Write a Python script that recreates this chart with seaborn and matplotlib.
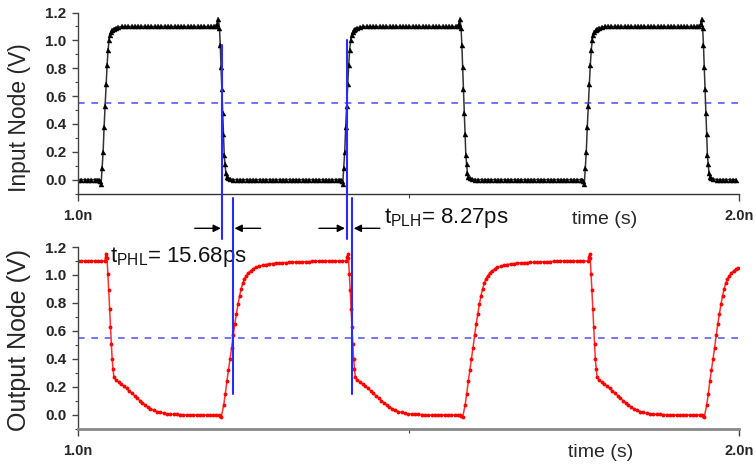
import matplotlib
matplotlib.use("Agg")
import matplotlib.pyplot as plt
import seaborn as sns
from matplotlib.ticker import FixedLocator, MultipleLocator

# ---------------- data (time in ps, voltage in V) ----------------
in_time_ps = [
    1000, 1005, 1010, 1015, 1020, 1025, 1029,
    1032.0, 1033.5, 1035.0, 1036.5, 1038.0, 1039.5, 1041.0, 1042.5, 1044.0, 1045.5, 1047.0, 1048.5, 1050.0, 1052.0, 1054.0, 1057.0, 1061.0, 1066.0,
    1071, 1076, 1081, 1086, 1091, 1096, 1101, 1106, 1111, 1116, 1121, 1126, 1131, 1136,
    1141, 1146, 1151, 1156, 1161, 1166, 1171, 1176, 1181, 1186, 1191, 1196, 1201, 1206,
    1209.0, 1211.0, 1212.5, 1214.0, 1215.2, 1216.4, 1217.6, 1218.8, 1220.0, 1221.2, 1222.4, 1223.6, 1225.0, 1227.0, 1230.0,
    1235, 1240, 1245, 1250, 1255, 1260, 1265, 1270, 1275, 1280, 1285, 1290, 1295, 1300, 1305, 1310, 1315,
    1320, 1325, 1330, 1335, 1340, 1345, 1350, 1355, 1360, 1365, 1370, 1375, 1380, 1385, 1390, 1395,
    1397.5, 1399.0, 1400.5, 1402.0, 1403.5, 1405.0, 1406.5, 1408.0, 1409.5, 1411.0, 1412.5, 1414.0, 1415.5, 1417.5, 1419.5, 1422.5, 1426.5, 1431.5,
    1436.5, 1441.5, 1446.5, 1451.5, 1456.5, 1461.5, 1466.5, 1471.5, 1476.5, 1481.5, 1486.5, 1491.5, 1496.5, 1501.5,
    1506.5, 1511.5, 1516.5, 1521.5, 1526.5, 1531.5, 1536.5, 1541.5, 1546.5, 1551.5, 1556.5, 1561.5, 1566.5, 1571.5,
    1574.5, 1576.5, 1578.0, 1579.5, 1580.7, 1581.9, 1583.1, 1584.3, 1585.5, 1586.7, 1587.9, 1589.1, 1590.5, 1592.5, 1595.5,
    1600.5, 1605.5, 1610.5, 1615.5, 1620.5, 1625.5, 1630.5, 1635.5, 1640.5, 1645.5, 1650.5, 1655.5, 1660.5, 1665.5, 1670.5, 1675.5, 1680.5,
    1685.5, 1690.5, 1695.5, 1700.5, 1705.5, 1710.5, 1715.5, 1720.5, 1725.5, 1730.5, 1735.5, 1740.5, 1745.5, 1750.5, 1755.5, 1760.5,
    1763.0, 1764.5, 1766.0, 1767.5, 1769.0, 1770.5, 1772.0, 1773.5, 1775.0, 1776.5, 1778.0, 1779.5, 1781.0, 1783.0, 1785.0, 1788.0, 1792.0, 1797.0,
    1802, 1807, 1812, 1817, 1822, 1827, 1832, 1837, 1842, 1847, 1852, 1857, 1862, 1867,
    1872, 1877, 1882, 1887, 1892, 1897, 1902, 1907, 1912, 1917, 1922, 1927, 1932, 1937,
    1940.0, 1942.0, 1943.5, 1945.0, 1946.2, 1947.4, 1948.6, 1949.8, 1951.0, 1952.2, 1953.4, 1954.6, 1956.0, 1958.0, 1961.0,
    1966, 1971, 1976, 1981, 1986, 1991, 1996,
]
in_volt = [
    0.0, 0.0, 0.0, 0.0, 0.0, 0.0, 0.0,
    0.00, -0.01, -0.03, 0.08, 0.20, 0.38, 0.53, 0.69, 0.82, 0.93, 1.00, 1.04, 1.06, 1.075, 1.085, 1.09, 1.095, 1.10,
    1.10, 1.10, 1.10, 1.10, 1.10, 1.10, 1.10, 1.10, 1.10, 1.10, 1.10, 1.10, 1.10, 1.10,
    1.10, 1.10, 1.10, 1.10, 1.10, 1.10, 1.10, 1.10, 1.10, 1.10, 1.10, 1.10, 1.10, 1.10,
    1.10, 1.12, 1.15, 1.09, 0.97, 0.81, 0.65, 0.48, 0.33, 0.18, 0.11, 0.05, 0.02, 0.01, 0.005,
    0.0, 0.0, 0.0, 0.0, 0.0, 0.0, 0.0, 0.0, 0.0, 0.0, 0.0, 0.0, 0.0, 0.0, 0.0, 0.0, 0.0,
    0.0, 0.0, 0.0, 0.0, 0.0, 0.0, 0.0, 0.0, 0.0, 0.0, 0.0, 0.0, 0.0, 0.0, 0.0, 0.0,
    0.00, -0.01, -0.03, 0.08, 0.20, 0.38, 0.53, 0.69, 0.82, 0.93, 1.00, 1.04, 1.06, 1.075, 1.085, 1.09, 1.095, 1.10,
    1.10, 1.10, 1.10, 1.10, 1.10, 1.10, 1.10, 1.10, 1.10, 1.10, 1.10, 1.10, 1.10, 1.10,
    1.10, 1.10, 1.10, 1.10, 1.10, 1.10, 1.10, 1.10, 1.10, 1.10, 1.10, 1.10, 1.10, 1.10,
    1.10, 1.12, 1.15, 1.09, 0.97, 0.81, 0.65, 0.48, 0.33, 0.18, 0.11, 0.05, 0.02, 0.01, 0.005,
    0.0, 0.0, 0.0, 0.0, 0.0, 0.0, 0.0, 0.0, 0.0, 0.0, 0.0, 0.0, 0.0, 0.0, 0.0, 0.0, 0.0,
    0.0, 0.0, 0.0, 0.0, 0.0, 0.0, 0.0, 0.0, 0.0, 0.0, 0.0, 0.0, 0.0, 0.0, 0.0, 0.0,
    0.00, -0.01, -0.03, 0.08, 0.20, 0.38, 0.53, 0.69, 0.82, 0.93, 1.00, 1.04, 1.06, 1.075, 1.085, 1.09, 1.095, 1.10,
    1.10, 1.10, 1.10, 1.10, 1.10, 1.10, 1.10, 1.10, 1.10, 1.10, 1.10, 1.10, 1.10, 1.10,
    1.10, 1.10, 1.10, 1.10, 1.10, 1.10, 1.10, 1.10, 1.10, 1.10, 1.10, 1.10, 1.10, 1.10,
    1.10, 1.12, 1.15, 1.09, 0.97, 0.81, 0.65, 0.48, 0.33, 0.18, 0.11, 0.05, 0.02, 0.01, 0.005,
    0.0, 0.0, 0.0, 0.0, 0.0, 0.0, 0.0,
]

out_time_ps = [
    1000, 1005, 1010, 1015, 1020, 1025, 1030, 1035,
    1040.5, 1041.9, 1042.9, 1043.9, 1045.2, 1046.5, 1047.8, 1049.1, 1050.4, 1051.7, 1053.0, 1054.3,
    1057.5, 1061.5, 1065.5, 1069.5, 1073.5, 1077.5, 1081.5, 1085.5, 1089.5, 1093.5, 1097.5, 1101.5,
    1105.5, 1109.5, 1114.5, 1119.5, 1124.5, 1129.5, 1134.5, 1139.5, 1144.5, 1149.5, 1154.5, 1159.5,
    1164.5, 1169.5, 1174.5, 1179.5, 1184.5, 1189.5, 1194.5, 1199.5, 1204.5, 1209.5,
    1213.3, 1214.8, 1216.8, 1220.4, 1222.8, 1225.2, 1227.6, 1230.0, 1232.4, 1234.8, 1237.2,
    1239.6, 1242.0, 1244.4, 1246.8, 1249.2, 1251.8, 1254.8, 1257.8, 1261.3, 1265.3,
    1269.3, 1274.3, 1279.3, 1284.3, 1289.3, 1294.3, 1299.3, 1304.3, 1309.3, 1314.3, 1319.3, 1324.3, 1329.3, 1334.3,
    1339.3, 1344.3, 1349.3, 1354.3, 1359.3, 1364.3, 1369.3, 1374.3, 1379.3, 1384.3, 1389.3, 1394.3, 1399.3,
    1405.8, 1407.2, 1408.2, 1409.2, 1410.5, 1411.8, 1413.1, 1414.4, 1415.7, 1417.0, 1418.3, 1419.6,
    1422.8, 1426.8, 1430.8, 1434.8, 1438.8, 1442.8, 1446.8, 1450.8, 1454.8, 1458.8, 1462.8, 1466.8,
    1470.8, 1474.8, 1479.8, 1484.8, 1489.8, 1494.8, 1499.8, 1504.8, 1509.8, 1514.8, 1519.8, 1524.8,
    1529.8, 1534.8, 1539.8, 1544.8, 1549.8, 1554.8, 1559.8, 1564.8, 1569.8, 1574.8,
    1578.5, 1580.0, 1582.0, 1585.6, 1588.0, 1590.4, 1592.8, 1595.2, 1597.6, 1600.0, 1602.4,
    1604.8, 1607.2, 1609.6, 1612.0, 1614.4, 1617.0, 1620.0, 1623.0, 1626.5, 1630.5,
    1634.5, 1639.5, 1644.5, 1649.5, 1654.5, 1659.5, 1664.5, 1669.5, 1674.5, 1679.5, 1684.5, 1689.5, 1694.5, 1699.5,
    1704.5, 1709.5, 1714.5, 1719.5, 1724.5, 1729.5, 1734.5, 1739.5, 1744.5, 1749.5, 1754.5, 1759.5, 1764.5,
    1771.5, 1772.9, 1773.9, 1774.9, 1776.2, 1777.5, 1778.8, 1780.1, 1781.4, 1782.7, 1784.0, 1785.3,
    1788.5, 1792.5, 1796.5, 1800.5, 1804.5, 1808.5, 1812.5, 1816.5, 1820.5, 1824.5, 1828.5, 1832.5,
    1836.5, 1840.5, 1845.5, 1850.5, 1855.5, 1860.5, 1865.5, 1870.5, 1875.5, 1880.5, 1885.5, 1890.5,
    1895.5, 1900.5, 1905.5, 1910.5, 1915.5, 1920.5, 1925.5, 1930.5, 1935.5, 1940.5,
    1944.0, 1945.5, 1947.5, 1951.1, 1953.5, 1955.9, 1958.3, 1960.7, 1963.1, 1965.5, 1967.9,
    1970.3, 1972.7, 1975.1, 1977.5, 1979.9, 1982.5, 1985.5, 1988.5, 1992.0, 1996.0, 1998.5,
]
out_volt = [
    1.10, 1.10, 1.10, 1.10, 1.10, 1.10, 1.10, 1.10,
    1.10, 1.13, 1.15, 1.12, 1.01, 0.89, 0.76, 0.63, 0.51, 0.40, 0.33, 0.27,
    0.25, 0.235, 0.22, 0.205, 0.19, 0.172, 0.155, 0.138, 0.12, 0.103, 0.087, 0.072,
    0.058, 0.046, 0.034, 0.025, 0.018, 0.013, 0.009, 0.007, 0.005, 0.004, 0.003, 0.002,
    0.0, 0.0, 0.0, 0.0, 0.0, 0.0, 0.0, 0.0, 0.0, 0.0,
    0.0, -0.005, -0.015, 0.07, 0.15, 0.24, 0.32, 0.40, 0.48, 0.57, 0.65,
    0.72, 0.79, 0.85, 0.90, 0.94, 0.97, 0.995, 1.015, 1.03, 1.045,
    1.055, 1.063, 1.07, 1.075, 1.079, 1.082, 1.085, 1.087, 1.088, 1.089, 1.09, 1.091, 1.092, 1.093,
    1.094, 1.095, 1.096, 1.097, 1.098, 1.099, 1.10, 1.10, 1.10, 1.10, 1.10, 1.10, 1.10,
    1.10, 1.13, 1.15, 1.12, 1.01, 0.89, 0.76, 0.63, 0.51, 0.40, 0.33, 0.27,
    0.25, 0.235, 0.22, 0.205, 0.19, 0.172, 0.155, 0.138, 0.12, 0.103, 0.087, 0.072,
    0.058, 0.046, 0.034, 0.025, 0.018, 0.013, 0.009, 0.007, 0.005, 0.004, 0.003, 0.002,
    0.0, 0.0, 0.0, 0.0, 0.0, 0.0, 0.0, 0.0, 0.0, 0.0,
    0.0, -0.005, -0.015, 0.07, 0.15, 0.24, 0.32, 0.40, 0.48, 0.57, 0.65,
    0.72, 0.79, 0.85, 0.90, 0.94, 0.97, 0.995, 1.015, 1.03, 1.045,
    1.055, 1.063, 1.07, 1.075, 1.079, 1.082, 1.085, 1.087, 1.088, 1.089, 1.09, 1.091, 1.092, 1.093,
    1.094, 1.095, 1.096, 1.097, 1.098, 1.099, 1.10, 1.10, 1.10, 1.10, 1.10, 1.10, 1.10,
    1.10, 1.13, 1.15, 1.12, 1.01, 0.89, 0.76, 0.63, 0.51, 0.40, 0.33, 0.27,
    0.25, 0.235, 0.22, 0.205, 0.19, 0.172, 0.155, 0.138, 0.12, 0.103, 0.087, 0.072,
    0.058, 0.046, 0.034, 0.025, 0.018, 0.013, 0.009, 0.007, 0.005, 0.004, 0.003, 0.002,
    0.0, 0.0, 0.0, 0.0, 0.0, 0.0, 0.0, 0.0, 0.0, 0.0,
    0.0, -0.005, -0.015, 0.07, 0.15, 0.24, 0.32, 0.40, 0.48, 0.57, 0.65,
    0.72, 0.79, 0.85, 0.90, 0.94, 0.97, 0.995, 1.015, 1.03, 1.045, 1.05,
]

x_ticks = [1000, 2000]
x_ticklabels = ["1.0n", "2.0n"]
x_minor_ticks = [1500]
y_ticks = [0.0, 0.2, 0.4, 0.6, 0.8, 1.0, 1.2]
y_ticklabels = ["0.0", "0.2", "0.4", "0.6", "0.8", "1.0", "1.2"]
threshold_v = 0.55
in_cross_ps = [1218.6, 1406.4]      # input 50% crossings used for the delays
delays_ps = [15.68, 8.27]
delay_names = ["PHL", "PLH"]

# ---------------- style ----------------
sns.set_theme(style="ticks")
plt.rcParams["font.family"] = ["Liberation Sans", "DejaVu Sans"]
plt.rcParams["mathtext.fontset"] = "custom"
plt.rcParams["mathtext.rm"] = "Liberation Sans"
plt.rcParams["mathtext.it"] = "Liberation Sans:italic"
plt.rcParams["mathtext.bf"] = "Liberation Sans:bold"

fig = plt.figure(figsize=(7.56, 4.69), dpi=100)
ax1 = fig.add_axes([78 / 756, 1 - 193.5 / 469, 661 / 756, 181 / 469])
ax2 = fig.add_axes([78 / 756, 1 - 429 / 469, 661 / 756, 182 / 469])

sns.lineplot(x=in_time_ps, y=in_volt, ax=ax1, estimator=None, sort=False,
             color="#333333", lw=1.1, marker="^", markersize=3.6,
             markerfacecolor="black", markeredgecolor="black", markeredgewidth=0.3)
sns.lineplot(x=out_time_ps, y=out_volt, ax=ax2, estimator=None, sort=False,
             color="#ff3030", lw=1.1, marker="o", markersize=2.8,
             markerfacecolor="#ff0000", markeredgecolor="#ff0000", markeredgewidth=0)

blue_dash = "#5b5bff"
for ax in (ax1, ax2):
    ax.axhline(threshold_v, color=blue_dash, ls=(0, (4, 4)), lw=1.2, zorder=1)
    ax.set_xlim(1000, 2000)
    ax.set_ylim(-0.1, 1.2)
    ax.spines[["top", "right"]].set_visible(False)
    ax.spines["left"].set_color("#444444")
    ax.spines["left"].set_linewidth(1.0)
    ax.set_yticks(y_ticks, labels=y_ticklabels, fontweight="bold", fontsize=11)
    ax.yaxis.set_minor_locator(MultipleLocator(0.1))
    ax.set_xticks(x_ticks, labels=x_ticklabels, fontweight="bold", fontsize=10.5)
    ax.xaxis.set_minor_locator(FixedLocator(x_minor_ticks))
    ax.tick_params(axis="y", which="major", length=4.5, width=1, pad=4, color="#444444")
    ax.tick_params(axis="y", which="minor", length=2.5, width=0.8, color="#444444")
    ax.tick_params(axis="x", which="major", length=5, width=1, pad=6, color="#444444")
    ax.tick_params(axis="x", which="minor", length=3, width=0.8, color="#444444")
    ax.set_xlabel("time (s)", fontsize=14)
    ax.grid(False)

ax1.spines["bottom"].set_color("#333333")
ax1.spines["bottom"].set_linewidth(1.0)
ax2.spines["bottom"].set_color("#888888")
ax2.spines["bottom"].set_linewidth(2.0)

ax1.set_ylabel("Input Node (V)", fontsize=16.5)
ax2.set_ylabel("Output Node (V)", fontsize=18)
ax1.yaxis.set_label_coords(-0.071, 0.42)
ax2.yaxis.set_label_coords(-0.071, 0.49)
ax1.xaxis.set_label_coords(0.797, -0.098)
ax2.xaxis.set_label_coords(0.79, -0.082)

# ---------------- delay markers ----------------
blue = "#2a2aff"
out_cross_ps = [c + d for c, d in zip(in_cross_ps, delays_ps)]
in_line_top = [0.97, 1.0]
for cin, top in zip(in_cross_ps, in_line_top):
    ax1.plot([cin, cin], [top, -0.43], color=blue, lw=1.5, clip_on=False, zorder=5)
for cout in out_cross_ps:
    ax2.plot([cout, cout], [1.55, 0.15], color=blue, lw=1.5, clip_on=False, zorder=5)

arrow_y = -0.35
arrow_kw = dict(arrowstyle="-|>", color="black", lw=1.0, mutation_scale=11,
                shrinkA=0, shrinkB=0)
for cin, cout in zip(in_cross_ps, out_cross_ps):
    ax1.annotate("", xy=(cin - 2.5, arrow_y), xytext=(cin - 42, arrow_y),
                 arrowprops=arrow_kw, annotation_clip=False)
    ax1.annotate("", xy=(cout + 2.5, arrow_y), xytext=(cout + 42, arrow_y),
                 arrowprops=arrow_kw, annotation_clip=False)

label_pos = [(1048.5, 1.093), (1463, 1.371)]
for name, d, (tx, ty) in zip(delay_names, delays_ps, label_pos):
    ax2.text(tx, ty, r"t$_{\mathrm{%s}}$= %.2fps" % (name, d), fontsize=16,
             ha="left", va="baseline", color="#111111", clip_on=False)

fig.savefig("out.png", dpi=100)
